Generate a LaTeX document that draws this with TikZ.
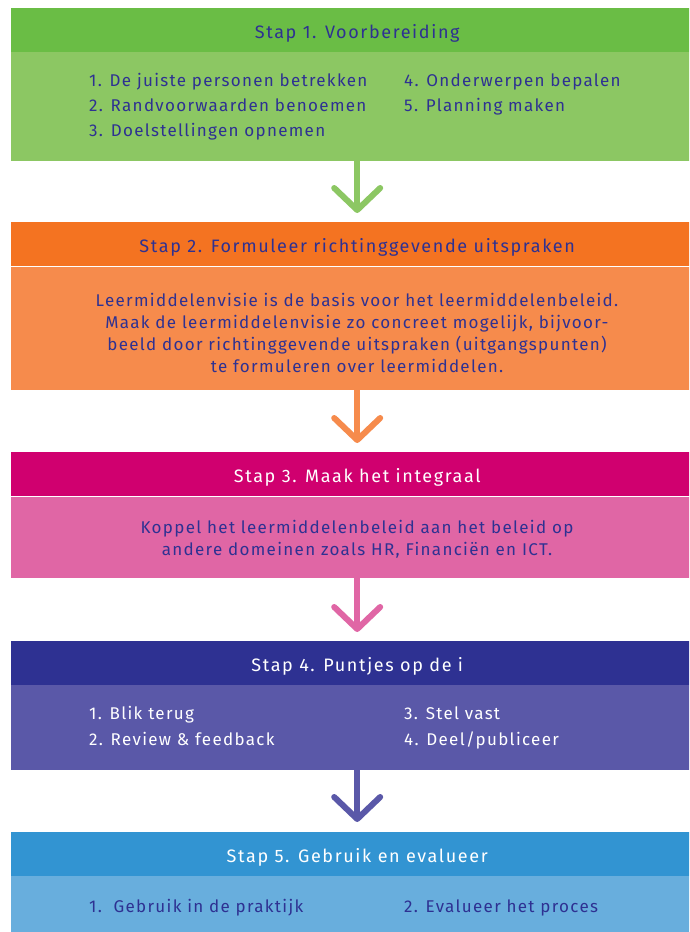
\documentclass[tikz,border=0pt]{standalone}
\usepackage{fontspec}
\setmainfont{Fira Sans}[LetterSpace=7.7]
\newfontfamily\kopfont{Fira Sans}[LetterSpace=9]
\usetikzlibrary{arrows.meta}

\definecolor{navy}{HTML}{2E3192}
\definecolor{groenkop}{HTML}{6ABD45}
\definecolor{groen}{HTML}{8CC763}
\definecolor{oranjekop}{HTML}{F47321}
\definecolor{oranje}{HTML}{F68B4C}
\definecolor{roze}{HTML}{E066A5}
\definecolor{rozekop}{HTML}{D0006F}
\definecolor{paarskop}{HTML}{2E3192}
\definecolor{paars}{HTML}{5A58A8}
\definecolor{blauwkop}{HTML}{3294D2}
\definecolor{blauw}{HTML}{68AEDD}

\tikzset{
  kop/.style={anchor=north west, minimum width=692pt, minimum height=44pt, inner sep=0pt,
    text height=16pt, text depth=0pt, font=\kopfont\fontsize{18}{20}\selectfont},
  romp/.style={anchor=north west, minimum width=692pt, inner sep=0pt},
  punt/.style={anchor=west, inner sep=0pt, text=navy, text height=11.7pt, text depth=0pt,
    font=\fontsize{17}{20}\selectfont},
  tekst/.style={align=center, inner sep=0pt, text=navy, font=\fontsize{17}{22}\selectfont},
  pijl/.style={line width=6pt, line cap=round,
    -{Straight Barb[length=22pt,width=46pt,round]}},
}

\begin{document}
\begin{tikzpicture}[x=1pt, y=-1pt]
  \clip (0,0) rectangle (689,932);
  \fill[white] (0,0) rectangle (689,932);

  %%%%% Stap 1 %%%%%
  \node[kop, fill=groenkop, text=navy] (kop1) at (11,8) {Stap 1. Voorbereiding};
  \node[romp, fill=groen, minimum height=109pt] (romp1) at (11,52) {};
  \node[punt] (p11) at (89,81) {1. De juiste personen betrekken};
  \node[punt] (p12) at (89,106) {2. Randvoorwaarden benoemen};
  \node[punt] (p13) at (89,131) {3. Doelstellingen opnemen};
  \node[punt] (p14) at (404,81) {4. Onderwerpen bepalen};
  \node[punt] (p15) at (404,106) {5. Planning maken};

  %%%%% Stap 2 %%%%%
  \node[kop, fill=oranjekop, text=navy] (kop2) at (11,222) {Stap 2. Formuleer richtinggevende uitspraken};
  \node[romp, fill=oranje, minimum height=123pt] (romp2) at (11,267) {};
  \node[tekst] (t2) at (357,333) {Leermiddelenvisie is de basis voor het leermiddelenbeleid.\\
    Maak de leermiddelenvisie zo concreet mogelijk, bijvoor-\\
    beeld door richtinggevende uitspraken (uitgangspunten)\\
    te formuleren over leermiddelen.};

  %%%%% Stap 3 %%%%%
  \node[kop, fill=rozekop, text=white] (kop3) at (11,452) {Stap 3. Maak het integraal};
  \node[romp, fill=roze, minimum height=81pt] (romp3) at (11,497) {};
  \node[tekst] (t3) at (357,539) {Koppel het leermiddelenbeleid aan het beleid op\\
    andere domeinen zoals HR, Financiën en ICT.};

  %%%%% Stap 4 %%%%%
  \node[kop, fill=paarskop, text=white] (kop4) at (11,641) {Stap 4. Puntjes op de i};
  \node[romp, fill=paars, minimum height=85pt] (romp4) at (11,685) {};
  \node[punt, text=white] (p41) at (89,714) {1. Blik terug};
  \node[punt, text=white] (p42) at (89,740) {2. Review \& feedback};
  \node[punt, text=white] (p43) at (404,714) {3. Stel vast};
  \node[punt, text=white] (p44) at (404,740) {4. Deel/publiceer};

  %%%%% Stap 5 %%%%%
  \node[kop, fill=blauwkop, text=white] (kop5) at (11,832) {Stap 5. Gebruik en evalueer};
  \node[romp, fill=blauw, minimum height=70pt] (romp5) at (11,876) {};
  \node[punt] (p51) at (89,907) {1.~~Gebruik in de praktijk};
  \node[punt] (p52) at (404,907) {2. Evalueer het proces};

  %%%%% pijlen %%%%%
  \draw[pijl, groen] (romp1.south) -- ([yshift=9pt]kop2.north);
  \draw[pijl, oranje] (romp2.south) -- ([yshift=9pt]kop3.north);
  \draw[pijl, roze] (romp3.south) -- ([yshift=9pt]kop4.north);
  \draw[pijl, paars] (romp4.south) -- ([yshift=10pt]kop5.north);
\end{tikzpicture}
\end{document}
